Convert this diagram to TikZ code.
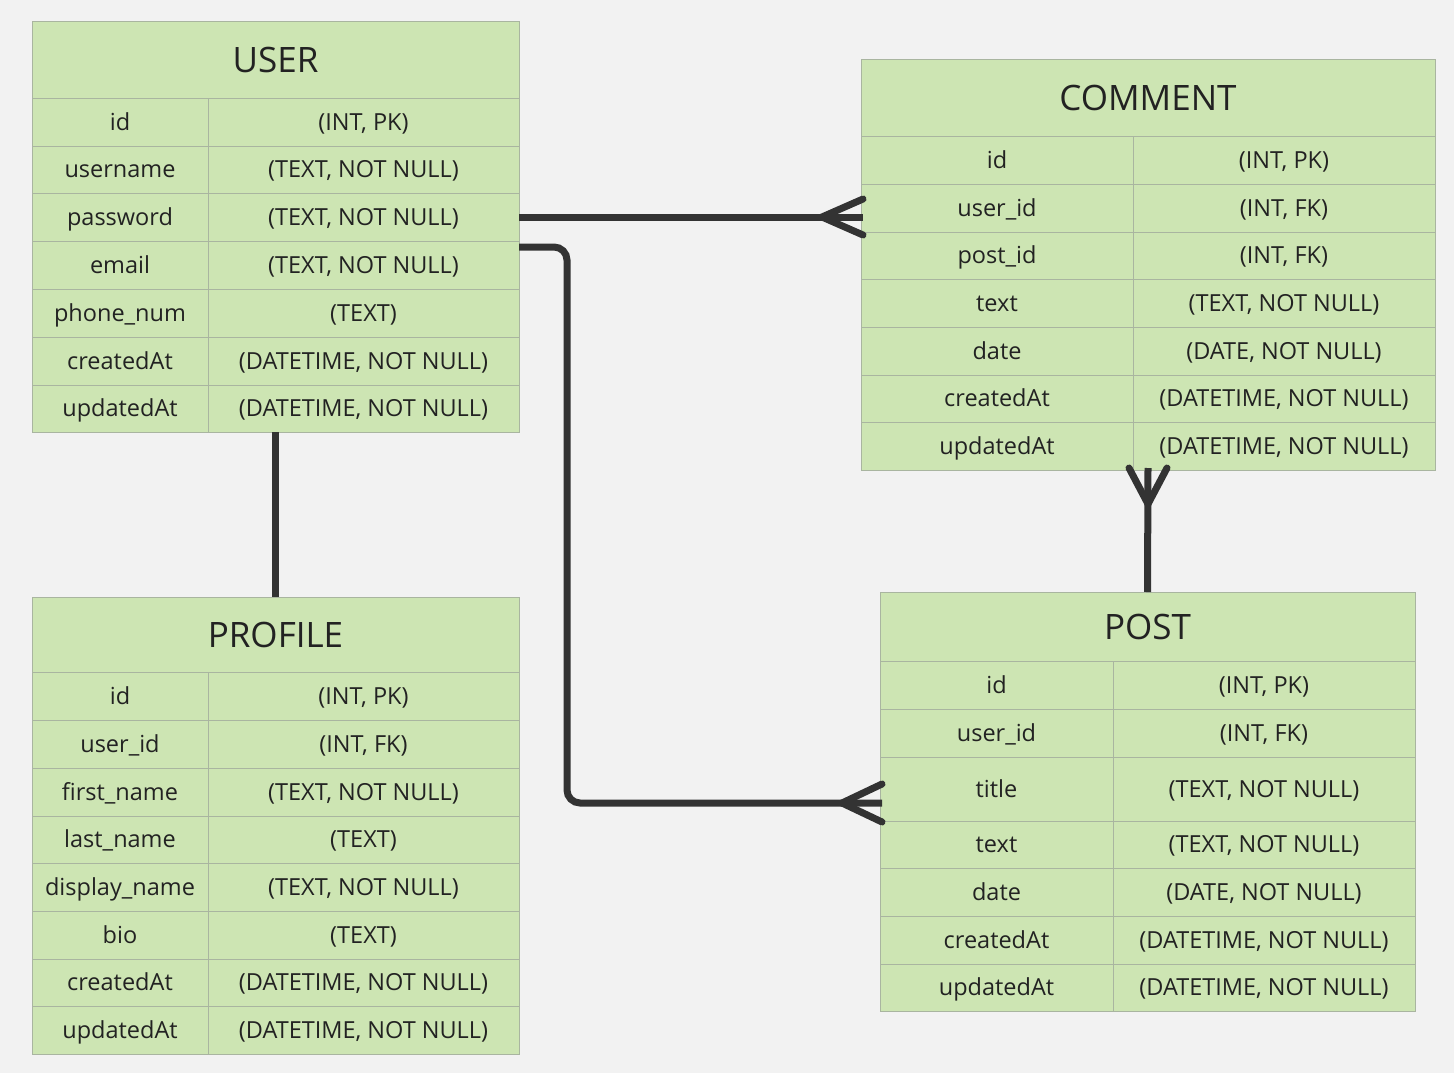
\documentclass[tikz,border=0pt]{standalone}
\usepackage{fontspec}
\setmainfont{Open Sans}
\definecolor{bgc}{HTML}{F2F2F2}
\definecolor{cellfill}{HTML}{CDE5B3}
\definecolor{celldraw}{HTML}{A9B5A0}
\definecolor{txt}{HTML}{222222}
\definecolor{linec}{HTML}{333333}
\tikzset{
  ercell/.style={draw=celldraw, fill=cellfill, line width=1pt, inner sep=0pt, outer sep=0pt, text=txt, text height=16.8pt, text depth=0pt, font=\fontsize{23.5}{28}\selectfont},
  ertitle/.style={ercell, text height=25pt, font=\fontsize{35}{42}\selectfont},
  conn/.style={draw=linec, line width=7pt},
  prong/.style={draw=linec, line width=7pt, line cap=round}
}
\newcommand\ercell[7]{\node[#1,minimum width={(#5-#3)*1pt},minimum height={(#6-#4)*1pt}] (#2) at ({(#3+#5)/2},{(#4+#6)/2}) {#7};}
\begin{document}
\begin{tikzpicture}[x=1pt,y=-1pt]
\fill[bgc] (0,0) rectangle (1454,1073);
\useasboundingbox (0,0) rectangle (1454,1073);

% USER
\ercell{ertitle}{user-title}{32}{22}{519}{98}{USER}
\foreach \l/\r/\ya/\yb [count=\i] in {
  {id}/{(INT, PK)}/98/146,
  {username}/{(TEXT, NOT NULL)}/146/193,
  {password}/{(TEXT, NOT NULL)}/193/241,
  {email}/{(TEXT, NOT NULL)}/241/289,
  {phone\_num}/{(TEXT)}/289/337,
  {createdAt}/{(DATETIME, NOT NULL)}/337/385,
  {updatedAt}/{(DATETIME, NOT NULL)}/385/432}{
  \ercell{ercell}{user-r\i-l}{32}{\ya}{208}{\yb}{\l}
  \ercell{ercell}{user-r\i-r}{208}{\ya}{519}{\yb}{\r}
}

% PROFILE
\ercell{ertitle}{profile-title}{32}{597}{519}{672}{PROFILE}
\foreach \l/\r/\ya/\yb [count=\i] in {
  {id}/{(INT, PK)}/672/720,
  {user\_id}/{(INT, FK)}/720/768,
  {first\_name}/{(TEXT, NOT NULL)}/768/816,
  {last\_name}/{(TEXT)}/816/863,
  {display\_name}/{(TEXT, NOT NULL)}/863/911,
  {bio}/{(TEXT)}/911/959,
  {createdAt}/{(DATETIME, NOT NULL)}/959/1006,
  {updatedAt}/{(DATETIME, NOT NULL)}/1006/1054}{
  \ercell{ercell}{profile-r\i-l}{32}{\ya}{208}{\yb}{\l}
  \ercell{ercell}{profile-r\i-r}{208}{\ya}{519}{\yb}{\r}
}

% COMMENT
\ercell{ertitle}{comment-title}{861}{60}{1435}{136}{COMMENT}
\foreach \l/\r/\ya/\yb [count=\i] in {
  {id}/{(INT, PK)}/136/184,
  {user\_id}/{(INT, FK)}/184/232,
  {post\_id}/{(INT, FK)}/232/279,
  {text}/{(TEXT, NOT NULL)}/279/327,
  {date}/{(DATE, NOT NULL)}/327/375,
  {createdAt}/{(DATETIME, NOT NULL)}/375/422,
  {updatedAt}/{(DATETIME, NOT NULL)}/422/470}{
  \ercell{ercell}{comment-r\i-l}{861}{\ya}{1133}{\yb}{\l}
  \ercell{ercell}{comment-r\i-r}{1133}{\ya}{1435}{\yb}{\r}
}

% POST
\ercell{ertitle}{post-title}{880}{592}{1415}{661}{POST}
\foreach \l/\r/\ya/\yb [count=\i] in {
  {id}/{(INT, PK)}/661/709,
  {user\_id}/{(INT, FK)}/709/757,
  {title}/{(TEXT, NOT NULL)}/757/821,
  {text}/{(TEXT, NOT NULL)}/821/868,
  {date}/{(DATE, NOT NULL)}/868/916,
  {createdAt}/{(DATETIME, NOT NULL)}/916/964,
  {updatedAt}/{(DATETIME, NOT NULL)}/964/1011}{
  \ercell{ercell}{post-r\i-l}{880}{\ya}{1113}{\yb}{\l}
  \ercell{ercell}{post-r\i-r}{1113}{\ya}{1415}{\yb}{\r}
}

% USER -> COMMENT (one to many)
\coordinate (cmend) at ([xshift=2pt]user-r3-r.east -| comment-r2-l.west);
\draw[conn] (user-r3-r.east) -- (cmend);
\draw[prong] ([yshift=18pt]cmend) -- ([xshift=-41pt]cmend) -- ([yshift=-18pt]cmend);

% USER -> POST (one to many)
\coordinate (ustart) at ([yshift=18pt]user-r4-r.east);
\coordinate (pend) at ([xshift=2pt,yshift=-14pt]post-r3-l.west);
\draw[conn, rounded corners=13pt] (ustart) -- ++(48,0) |- (pend);
\draw[prong] ([yshift=19pt]pend) -- ([xshift=-40pt]pend) -- ([yshift=-19pt]pend);

% USER -- PROFILE (one to one)
\draw[conn] (user-title.center |- user-r7-l.south) -- (profile-title.north);

% POST -> COMMENT (one to many)
\coordinate (cend) at ([yshift=2pt]comment-title.center |- comment-r7-r.south);
\draw[conn] (cend) -- (post-title.north);
\draw[prong] ([xshift=-19pt]cend) -- ([yshift=-36pt]cend) -- ([xshift=19pt]cend);
\end{tikzpicture}
\end{document}
